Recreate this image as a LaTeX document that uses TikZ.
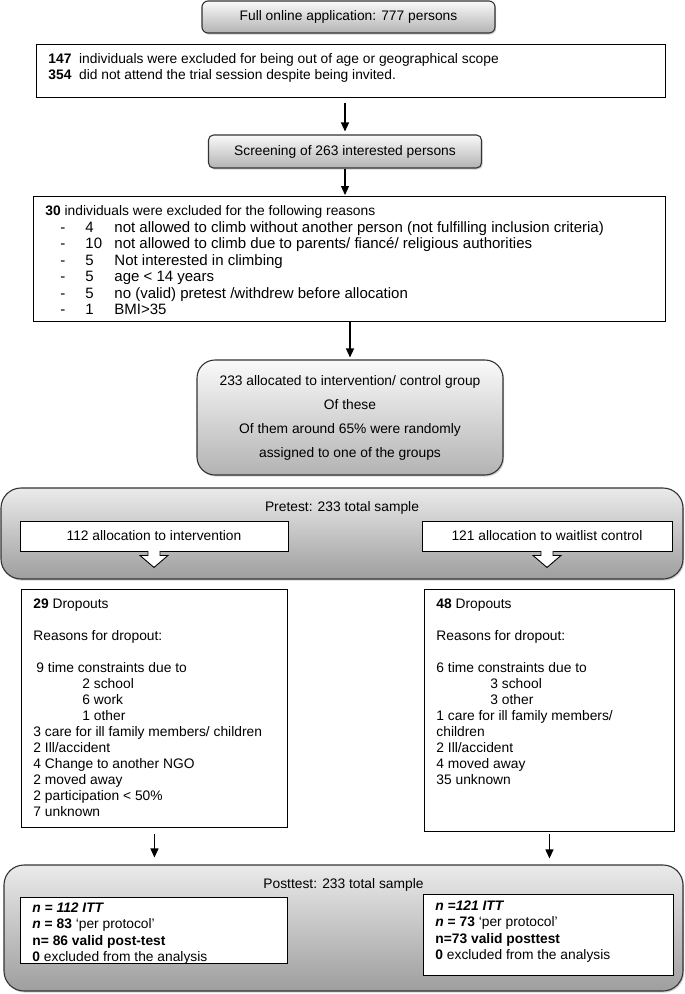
\documentclass[tikz,border=0pt]{standalone}
\usepackage{fontspec}
\setmainfont{Liberation Sans}
\usepackage{tikz}
\usetikzlibrary{arrows,arrows.meta,shapes,shadows,calc}
\usetikzlibrary{positioning}
\tikzstyle{roundbox} = [draw=black!80, line width=1.1pt, rounded corners=6pt,
    top color=black!2, bottom color=black!30, inner sep=0pt, align=center,
    drop shadow={shadow xshift=1.2pt, shadow yshift=-1.6pt, opacity=0.35}]
\tikzstyle{bigbox} = [roundbox, rounded corners=20pt, top color=black!8,
    bottom color=black!38, inner xsep=0pt, inner ysep=13.6pt]
\tikzstyle{plainbox} = [draw, line width=0.9pt, fill=white, anchor=north west,
    inner xsep=12pt, inner ysep=9.5pt]
\tikzstyle{allocbox} = [draw, line width=0.9pt, fill=white, minimum height=30pt]
\tikzstyle{line} = [-{Triangle[length=9pt,width=8pt]}, line width=1.2pt]
\newcommand{\topbox}[3]{\vbox to #2{\hsize=#1\parindent=0pt\raggedright #3\par\vss}}
\newcommand{\excl}[2]{\hspace*{15pt}\makebox[25pt][l]{-}\makebox[29pt][l]{#1}#2}

\begin{document}
\begin{tikzpicture}[x=1pt, y=-1pt, every node/.style={font=\fontsize{13.8}{16}\selectfont}]
  \useasboundingbox (0,0) rectangle (685,994);

  % recruitment
  \node [roundbox, minimum width=293pt, minimum height=32pt] (full) at (348.5,17)
  {Full online application: 777 persons};
  \node [plainbox] (excl) at (36,44) {\topbox{605pt}{34pt}{%
    \textbf{147}\ \ individuals were excluded for being out of age or geographical scope\\
    \textbf{354}\ \ did not attend the trial session despite being invited.}};
  \node [roundbox, rounded corners=5pt, minimum width=273pt, minimum height=33pt] (scr) at (345,151.5)
  {Screening of 263 interested persons};
  \node [plainbox] (ex30) at (33,196) {\topbox{608pt}{106pt}{%
    \fontsize{13.8}{16.5}\selectfont
    \textbf{30} individuals were excluded for the following reasons\\
    {\fontsize{15}{16.5}\selectfont
    \excl{4}{not allowed to climb without another person (not fulfilling inclusion criteria)}\\
    \excl{10}{not allowed to climb due to parents/ fiancé/ religious authorities}\\
    \excl{5}{Not interested in climbing}\\
    \excl{5}{age < 14 years}\\
    \excl{5}{no (valid) pretest /withdrew before allocation}\\
    \excl{1}{BMI>35}}}};
  \node [roundbox, rounded corners=18pt, minimum width=306pt, minimum height=115pt,
    font=\fontsize{13.8}{24}\selectfont] (alloc) at (350,417.5)
  {233 allocated to intervention/ control group\\Of these\\Of them around 65\% were randomly\\assigned to one of the groups};

  \draw [line, shorten <=5pt, shorten >=3pt] (excl.south -| scr.north) -- (scr.north);
  \draw [line, shorten >=1pt] (scr.south) -- (scr.south |- ex30.north);
  \draw [line, shorten >=2pt] (ex30.south -| alloc.north) -- (alloc.north);

  % pretest
  \node [bigbox, minimum width=682pt, minimum height=91pt] (pre) at (342,533.5)
  {\topbox{682pt}{63.8pt}{\centering Pretest: 233 total sample}};
  \node [allocbox, minimum width=268pt] (allocI) at (154,536) {112 allocation to intervention};
  \node [allocbox, minimum width=250pt] (allocC) at (547,536) {121 allocation to waitlist control};
  \foreach \b in {allocI,allocC}
    \draw [fill=white, line width=0.9pt] ($(\b.south)+(-6,-0.6)$) -- ++(0,4.6) -- ++(-8,0)
      -- ++(14,12) -- ++(14,-12) -- ++(-8,0) -- ++(0,-4.6);

  % dropouts
  \node [plainbox] (dropI) at (21,589) {\topbox{242pt}{219pt}{%
    \textbf{29} Dropouts\\[16pt]
    Reasons for dropout:\\[16pt]
    \hspace*{3pt}9 time constraints due to\\
    \hspace*{49pt}2 school\\
    \hspace*{49pt}6 work\\
    \hspace*{49pt}1 other\\
    3 care for ill family members/ children\\
    2 Ill/accident\\
    4 Change to another NGO\\
    2 moved away\\
    2 participation < 50\%\\
    7 unknown}};
  \node [plainbox] (dropC) at (424,589) {\topbox{226pt}{223pt}{%
    \textbf{48} Dropouts\\[16pt]
    Reasons for dropout:\\[16pt]
    6 time constraints due to\\
    \hspace*{54pt}3 school\\
    \hspace*{54pt}3 other\\
    1 care for ill family members/\\
    children\\
    2 Ill/accident\\
    4 moved away\\
    35 unknown}};

  % posttest
  \node [bigbox, minimum width=679pt, minimum height=126pt] (post) at (343.5,928)
  {\topbox{679pt}{98.8pt}{\centering Posttest: 233 total sample}};
  \node [plainbox, inner ysep=5pt] (resI) at (20,897) {\topbox{243pt}{56pt}{%
    \fontsize{13.8}{16.5}\selectfont
    \textbf{\textit{n = 112 ITT}}\\
    \textbf{\textit{n} = 83} `per protocol'\\
    \textbf{n= 86 valid post-test}\\
    \textbf{0} excluded from the analysis}};
  \node [plainbox, inner ysep=6pt] (resC) at (423,894) {\topbox{226pt}{69pt}{%
    \fontsize{13.8}{16.5}\selectfont
    \textbf{\textit{n =121 ITT}}\\
    \textbf{\textit{n} = 73} `per protocol'\\
    \textbf{n=73 valid posttest}\\
    \textbf{0} excluded from the analysis}};

  \draw [line, shorten <=6pt, shorten >=7pt] (dropI.south) -- (dropI.south |- post.north);
  \draw [line, shorten <=2pt, shorten >=6pt] (dropC.south) -- (dropC.south |- post.north);
\end{tikzpicture}
\end{document}
